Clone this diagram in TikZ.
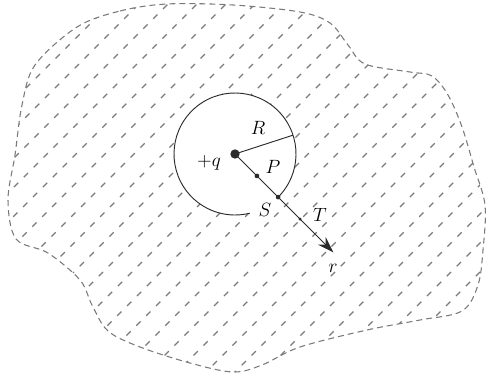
\documentclass[tikz,border=0pt]{standalone}
\usepackage{tikz}
\usetikzlibrary{arrows.meta,calc}
\definecolor{Hatch}{HTML}{7A7A7A}
\definecolor{Ink}{HTML}{2B2B2B}

\begin{document}
\begin{tikzpicture}[x=0.75pt,y=0.75pt,font=\fontsize{14}{16}\selectfont,
    hatchline/.style={Hatch,line width=0.9pt,dash pattern=on 4.5pt off 6pt},
    blobline/.style={Hatch,line width=0.8pt,dash pattern=on 4.5pt off 3pt},
    dot/.style={circle,fill=Ink,inner sep=0pt,minimum size=#1}]
    \useasboundingbox (0,0) rectangle (488,375);
    % irregular region
    \def\blob{plot[smooth cycle,tension=0.55] coordinates {
      (77,348) (120,364) (167,371) (233,370) (300,363) (330,352) (348,330)
      (365,311) (410,303) (432,299) (448,280) (462,248) (474,208) (485,170)
      (483,125) (478,90) (462,64) (420,55) (367,45) (300,28) (262,10)
      (233,3) (190,12) (140,28) (108,44) (92,70) (80,95) (48,122) (16,136)
      (8,175) (15,220) (22,270) (35,310)}}
    \begin{scope}
      \clip \blob;
      \foreach \c in {-426,-397,...,500}
        \draw[hatchline] (\c,-20) -- ++(420,420);
    \end{scope}
    \draw[blobline] \blob;
    % sphere of radius R
    \coordinate (q) at (235,221);
    \fill[white] (q) circle[radius=61];
    \draw[Ink,line width=0.7pt] ($(q)+(-46:61)$) arc[start angle=-46,end angle=284,radius=61];
    \coordinate (Rend) at ($(q)+(18:61)$);
    \coordinate (P) at ($(q)+(-45:31)$);
    \coordinate (S) at ($(q)+(-45:61)$);
    \coordinate (T) at ($(q)+(-45:92)$);
    \coordinate (rend) at ($(q)+(-45:139)$);
    \draw[Ink,line width=0.7pt] (q) -- (Rend);
    \draw[Ink,line width=0.7pt,-{Stealth[length=12,width=8]}] (q) -- (rend);
    \node[dot=7pt] (qdot) at (q) {};
    \node[dot=3.5pt] (Pdot) at (P) {};
    \node[dot=3.5pt] (Sdot) at (S) {};
    \node[dot=2.5pt] (Tdot) at (T) {};
    % labels
    \node (Rlab) at (258,247) {$R$};
    \node (qlab) at (209,212) {$+q$};
    \node (Plab) at (273,208) {$P$};
    \node (Slab) at (265,165) {$S$};
    \node (Tlab) at (320,160) {$T$};
    \node (rlab) at (333,107) {$r$};
\end{tikzpicture}
\end{document}
